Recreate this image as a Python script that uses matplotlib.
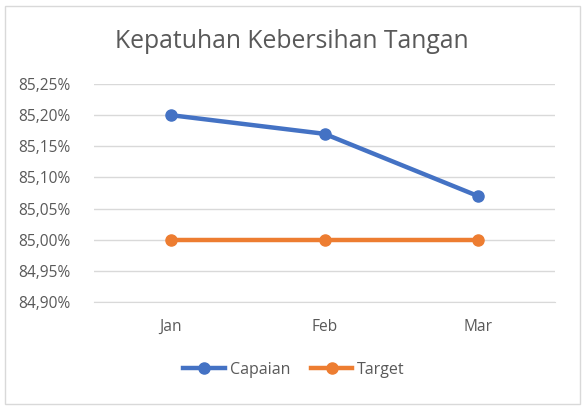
import matplotlib.pyplot as plt
from matplotlib.patches import Rectangle
from matplotlib.ticker import FuncFormatter

# data
months = ["Jan", "Feb", "Mar"]
capaian = [85.20, 85.17, 85.07]
target = [85.00, 85.00, 85.00]
yticks = [84.90, 84.95, 85.00, 85.05, 85.10, 85.15, 85.20, 85.25]

BLUE = "#4472C4"
ORANGE = "#ED7D31"
TXT = "#595959"

plt.rcParams['font.family'] = ['Open Sans', 'DejaVu Sans']

fig = plt.figure(figsize=(5.85, 4.08), dpi=100)
fig.patches.append(Rectangle((5 / 585, 4 / 408), 575 / 585, 398 / 408,
                             transform=fig.transFigure, fill=False,
                             edgecolor="#d9d9d9", linewidth=1))

ax = fig.add_axes([94 / 585, 1 - 302 / 408, 461 / 585, 218 / 408])
x = range(len(months))
ax.plot(x, capaian, color=BLUE, linewidth=3.2, marker="o", markersize=8, label="Capaian")
ax.plot(x, target, color=ORANGE, linewidth=3.2, marker="o", markersize=8, label="Target")

ax.set_xlim(-0.5, 2.5)
ax.set_ylim(84.90, 85.25)
ax.set_yticks(yticks)
ax.yaxis.set_major_formatter(FuncFormatter(lambda v, p: f"{v:.2f}%".replace(".", ",")))
ax.set_xticks(list(x))
ax.set_xticklabels(months)
ax.grid(axis="y", color="#d9d9d9", linewidth=1)
ax.set_axisbelow(True)
for s in ax.spines.values():
    s.set_visible(False)
ax.spines["bottom"].set_visible(True)
ax.spines["bottom"].set_color("#d9d9d9")
ax.tick_params(length=0, labelsize=11.2, labelcolor=TXT)
ax.tick_params(axis="y", pad=17)
ax.tick_params(axis="x", pad=12)

fig.text(292 / 585, 1 - 42 / 408, "Kepatuhan Kebersihan Tangan", ha="center", va="center",
         fontsize=17.8, color=TXT)

fig.legend(loc="center", bbox_to_anchor=(294 / 585, 1 - 370 / 408), ncol=2, frameon=False,
           fontsize=11.5, labelcolor=TXT, handlelength=2.6, columnspacing=1.3, handletextpad=0.3)

fig.savefig("out.png", dpi=100)
